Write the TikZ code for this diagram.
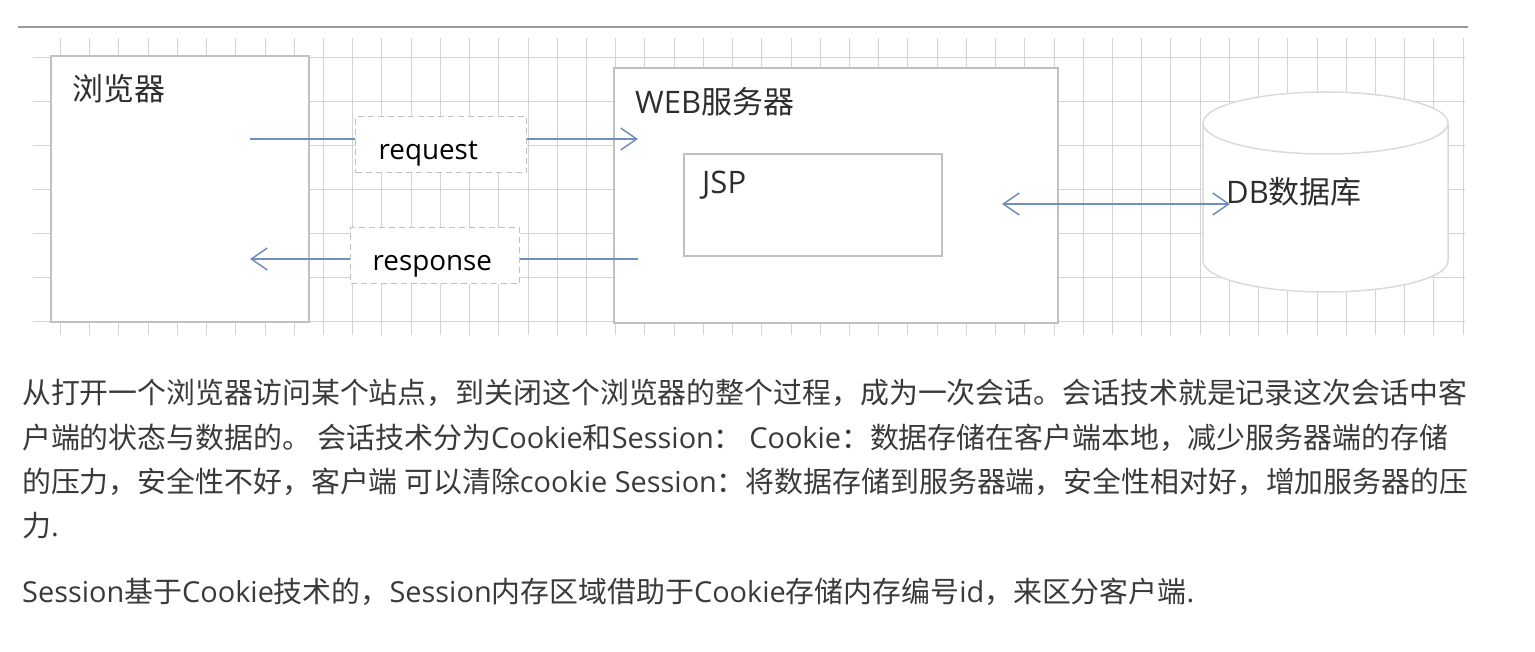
\documentclass[tikz,border=0pt]{standalone}
\usepackage{fontspec}
\setmainfont{Noto Sans CJK SC}
\newfontfamily\lat{Open Sans}
\usetikzlibrary{arrows.meta,positioning}
\definecolor{gridc}{RGB}{212,212,212}
\definecolor{boxc}{RGB}{192,192,192}
\definecolor{arrc}{RGB}{112,142,190}
\definecolor{txtc}{RGB}{58,58,58}

\begin{document}
\begin{tikzpicture}[
  x=1pt, y=-1pt,
  font=\fontsize{31}{37}\selectfont,
  box/.style={draw=boxc, line width=1.6pt, fill=white, inner sep=0pt, anchor=north west},
  dbox/.style={box, dash pattern=on 6pt off 4pt, line width=1.3pt, align=left, text height=29pt, text depth=0pt, font=\lat\fontsize{27.8}{33}\selectfont},
  lbl/.style={inner sep=0pt, anchor=west, text=black!82},
  para/.style={inner sep=0pt, anchor=base west, text=txtc, font=\fontsize{28.9}{44}\selectfont},
  arr/.style={draw=arrc, line width=1.5pt},
  arrend/.style={-{Straight Barb[length=16pt, width=22pt]}},
  arrboth/.style={{Straight Barb[length=16pt, width=22pt]}-{Straight Barb[length=16pt, width=22pt]}},
  gridline/.style={draw=gridc, line width=0.9pt},
  dbline/.style={draw=black!14, line width=1.5pt, fill=white}
]
\fill[white] (0,0) rectangle (1535,652);
\useasboundingbox (0,0) rectangle (1535,652);
\draw[draw=black!40, line width=1.4pt] (18,27) -- (1468,27);
\foreach \i in {0,...,48}
  \draw[gridline] ({60.5+29.22*\i},38) -- ({60.5+29.22*\i},335);
\foreach \j in {0,...,6}
  \draw[gridline] (33,{57+44*\j}) -- (1465,{57+44*\j});
\node[box, minimum width=258, minimum height=266] (browser) at (50,55) {};
\node[lbl] (browserlbl) at (72,89) {浏览器};
\node[box, minimum width=444, minimum height=255] (web) at (613,67) {};
\node[lbl] (weblbl) at (635,102) {{\lat WEB}服务器};
\node[box, minimum width=258, minimum height=102] (jsp) at (683,153) {};
\node[lbl] (jsplbl) at (702,185) {\lat JSP};
\node[dbox, inner xsep=23pt, text width=125pt, minimum height=56] (req) at (355,116) {request};
\node[dbox, inner xsep=22pt, text width=125pt, minimum height=56] (resp) at (350,227) {response};
\filldraw[dbline] (1203,123) -- (1203,261) arc[start angle=180, end angle=0, x radius=122.5, y radius=31] -- (1448,123);
\filldraw[dbline] (1325.5,123) ellipse[x radius=122.5, y radius=31];
\node[lbl] (dblbl) at (1226,192) {{\lat DB}数据库};
\coordinate (reqa) at (250,139);
\coordinate (reqb) at (638,139);
\coordinate (respa) at (250,259);
\coordinate (respb) at (638,259);
\coordinate (dba) at (1002,204);
\coordinate (dbb) at (1230,204);
\draw[arr] (reqa) -- (reqa -| req.west);
\draw[arr, arrend] (reqa -| req.east) -- (reqb);
\draw[arr] (respb) -- (respb -| resp.east);
\draw[arr, arrend] (respb -| resp.west) -- (respa);
\draw[arr, arrboth] (dba) -- (dbb);
\node[para] (l1) at (22,403) {从打开一个浏览器访问某个站点，到关闭这个浏览器的整个过程，成为一次会话。会话技术就是记录这次会话中客};
\node[para] (l2) at (22,448) {户端的状态与数据的。 会话技术分为{\lat Cookie}和{\lat Session}： {\lat Cookie}：数据存储在客户端本地，减少服务器端的存储};
\node[para] (l3) at (22,492) {的压力，安全性不好，客户端 可以清除{\lat cookie Session}：将数据存储到服务器端，安全性相对好，增加服务器的压};
\node[para] (l4) at (22,536) {力{\lat .}};
\node[para] (p2) at (22,602) {{\lat Session}基于{\lat Cookie}技术的，{\lat Session}内存区域借助于{\lat Cookie}存储内存编号{\lat id}，来区分客户端{\lat .}};
\end{tikzpicture}
\end{document}
